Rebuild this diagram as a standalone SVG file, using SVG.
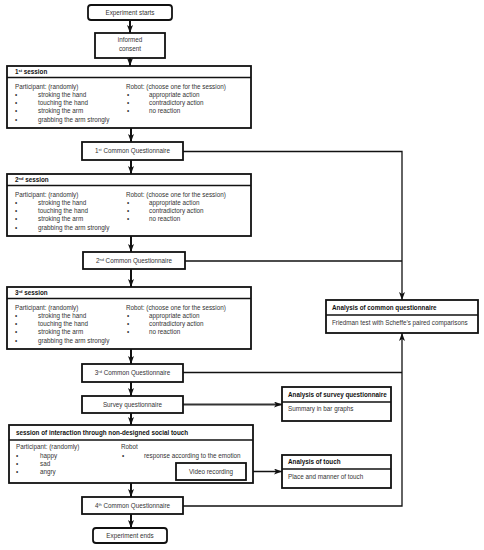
<svg xmlns="http://www.w3.org/2000/svg" width="484" height="550" viewBox="0 0 484 550">
<defs>
<marker id="ah" viewBox="0 0 8 6" refX="8" refY="3" markerWidth="8" markerHeight="6" markerUnits="userSpaceOnUse" orient="auto">
<path d="M0,0 L8,3 L0,6 L2,3 z" fill="#111"/>
</marker>
<marker id="ahm" viewBox="0 0 8 6" refX="8" refY="3" markerWidth="8" markerHeight="6.5" markerUnits="userSpaceOnUse" orient="auto">
<path d="M0,0 L8,3 L0,6 L2,3 z" fill="#111"/>
</marker>
</defs>
<style>
rect{fill:#fff;stroke:#111;stroke-width:1.8}
.div{stroke:#111;stroke-width:1.4}
text{font-family:"Liberation Sans",Arial,sans-serif;font-size:6.3px;fill:#333}
.b{font-weight:bold;fill:#111}
.c{text-anchor:middle}
.sup{font-size:4px}
.main{stroke:#111;stroke-width:2;fill:none}
.con{stroke:#111;stroke-width:1.3;fill:none}
.thick{stroke:#333;stroke-width:2;fill:none}
</style>
<rect width="484" height="550" style="fill:#fff;stroke:none"/>

<g id="connectors">
<line class="main" x1="130" y1="20" x2="130" y2="33" marker-end="url(#ahm)"/>
<line class="main" x1="130" y1="58" x2="130" y2="66" marker-end="url(#ahm)"/>
<line class="main" x1="131" y1="128" x2="131" y2="142" marker-end="url(#ahm)"/>
<line class="main" x1="131" y1="160" x2="131" y2="174" marker-end="url(#ahm)"/>
<line class="main" x1="131" y1="236" x2="131" y2="252" marker-end="url(#ahm)"/>
<line class="main" x1="131" y1="269" x2="131" y2="287" marker-end="url(#ahm)"/>
<line class="main" x1="131" y1="349" x2="131" y2="364" marker-end="url(#ahm)"/>
<line class="main" x1="131" y1="382" x2="131" y2="396" marker-end="url(#ahm)"/>
<line class="main" x1="131" y1="413" x2="131" y2="425" marker-end="url(#ahm)"/>
<line class="main" x1="131" y1="483" x2="131" y2="497" marker-end="url(#ahm)"/>
<line class="main" x1="131" y1="514" x2="131" y2="528" marker-end="url(#ahm)"/>
<polyline class="con" points="183,151.5 402,151.5 402,300" marker-end="url(#ah)"/>
<line class="con" x1="185" y1="261" x2="402" y2="261"/>
<line class="con" x1="183" y1="372.5" x2="402" y2="372.5"/>
<polyline class="con" points="183,506 402,506 402,333" marker-end="url(#ah)"/>
<line class="thick" x1="183" y1="404.5" x2="282" y2="404.5" marker-end="url(#ah)"/>
<line class="con" x1="246" y1="471.5" x2="282" y2="471.5" marker-end="url(#ah)"/>
</g>

<g id="start">
<rect x="88" y="5" width="84" height="15" rx="3"/>
<text class="c" x="130" y="14.7">Experiment starts</text>
</g>

<g id="consent">
<rect x="95" y="33" width="70" height="25"/>
<text class="c" x="130" y="42.3">informed</text>
<text class="c" x="130" y="50.5">consent</text>
</g>

<g id="session1">
<rect x="7" y="66" width="244" height="62"/>
<line class="div" x1="7" y1="77.5" x2="251" y2="77.5"/>
<text class="b" x="15" y="74">1<tspan class="sup" dy="-2">st</tspan><tspan dy="2"> session</tspan></text>
<text x="15" y="88.7">Participant: (randomly)</text>
<text x="15" y="96.9">•</text><text x="38" y="96.9">stroking the hand</text>
<text x="15" y="105.2">•</text><text x="38" y="105.2">touching the hand</text>
<text x="15" y="113.4">•</text><text x="38" y="113.4">stroking the arm</text>
<text x="15" y="121.6">•</text><text x="38" y="121.6">grabbing the arm strongly</text>
<text x="126" y="88.7">Robot: (choose one for the session)</text>
<text x="127" y="96.9">•</text><text x="149" y="96.9">appropriate action</text>
<text x="127" y="105.2">•</text><text x="149" y="105.2">contradictory action</text>
<text x="127" y="113.4">•</text><text x="149" y="113.4">no reaction</text>
</g>

<g id="cq1">
<rect x="82" y="142" width="101" height="18"/>
<text class="c" x="132.5" y="153.3">1<tspan class="sup" dy="-2">st</tspan><tspan dy="2"> Common Questionnaire</tspan></text>
</g>

<g id="session2">
<rect x="7" y="174" width="244" height="62"/>
<line class="div" x1="7" y1="185.5" x2="251" y2="185.5"/>
<text class="b" x="15" y="182">2<tspan class="sup" dy="-2">nd</tspan><tspan dy="2"> session</tspan></text>
<text x="15" y="196.7">Participant: (randomly)</text>
<text x="15" y="204.9">•</text><text x="38" y="204.9">stroking the hand</text>
<text x="15" y="213.2">•</text><text x="38" y="213.2">touching the hand</text>
<text x="15" y="221.4">•</text><text x="38" y="221.4">stroking the arm</text>
<text x="15" y="229.6">•</text><text x="38" y="229.6">grabbing the arm strongly</text>
<text x="126" y="196.7">Robot: (choose one for the session)</text>
<text x="127" y="204.9">•</text><text x="149" y="204.9">appropriate action</text>
<text x="127" y="213.2">•</text><text x="149" y="213.2">contradictory action</text>
<text x="127" y="221.4">•</text><text x="149" y="221.4">no reaction</text>
</g>

<g id="cq2">
<rect x="83" y="252" width="102" height="17"/>
<text class="c" x="134" y="262.8">2<tspan class="sup" dy="-2">nd</tspan><tspan dy="2"> Common Questionnaire</tspan></text>
</g>

<g id="session3">
<rect x="7" y="287" width="244" height="62"/>
<line class="div" x1="7" y1="298.5" x2="251" y2="298.5"/>
<text class="b" x="15" y="295">3<tspan class="sup" dy="-2">rd</tspan><tspan dy="2"> session</tspan></text>
<text x="15" y="309.7">Participant: (randomly)</text>
<text x="15" y="317.9">•</text><text x="38" y="317.9">stroking the hand</text>
<text x="15" y="326.2">•</text><text x="38" y="326.2">touching the hand</text>
<text x="15" y="334.4">•</text><text x="38" y="334.4">stroking the arm</text>
<text x="15" y="342.6">•</text><text x="38" y="342.6">grabbing the arm strongly</text>
<text x="126" y="309.7">Robot: (choose one for the session)</text>
<text x="127" y="317.9">•</text><text x="149" y="317.9">appropriate action</text>
<text x="127" y="326.2">•</text><text x="149" y="326.2">contradictory action</text>
<text x="127" y="334.4">•</text><text x="149" y="334.4">no reaction</text>
</g>

<g id="cq3">
<rect x="82" y="364" width="101" height="18"/>
<text class="c" x="132.5" y="375.3">3<tspan class="sup" dy="-2">rd</tspan><tspan dy="2"> Common Questionnaire</tspan></text>
</g>

<g id="survey">
<rect x="82" y="396" width="101" height="17"/>
<text class="c" x="132.5" y="406.8">Survey questionnaire</text>
</g>

<g id="session-interaction">
<rect x="9" y="425" width="244" height="58"/>
<line class="div" x1="9" y1="440" x2="253" y2="440"/>
<text class="b" x="16" y="435.2">session of interaction through non-designed social touch</text>
<text x="16" y="449.2">Participant: (randomly)</text>
<text x="16" y="457.8">•</text><text x="40" y="457.8">happy</text>
<text x="16" y="466">•</text><text x="40" y="466">sad</text>
<text x="16" y="474.3">•</text><text x="40" y="474.3">angry</text>
<text x="121" y="449.2">Robot</text>
<text x="122" y="457.8">•</text><text x="144" y="457.8">response according to the emotion</text>
</g>

<g id="video">
<rect x="176" y="463" width="70" height="17"/>
<text class="c" x="211" y="473.8">Video recording</text>
</g>

<g id="cq4">
<rect x="82" y="497" width="101" height="17"/>
<text class="c" x="132.5" y="507.8">4<tspan class="sup" dy="-2">th</tspan><tspan dy="2"> Common Questionnaire</tspan></text>
</g>

<g id="end">
<rect x="93" y="528" width="74" height="15" rx="3"/>
<text class="c" x="130" y="537.7">Experiment ends</text>
</g>

<g id="analysis-common">
<rect x="326" y="300" width="152" height="33"/>
<line class="div" x1="326" y1="315" x2="478" y2="315"/>
<text class="b" x="332" y="310">Analysis of common questionnaire</text>
<text x="332" y="325.2">Friedman test with Scheffe’s paired comparisons</text>
</g>

<g id="analysis-survey">
<rect x="282" y="387" width="109" height="34"/>
<line class="div" x1="282" y1="402" x2="391" y2="402"/>
<text class="b" x="288" y="396.6">Analysis of survey questionnaire</text>
<text x="288" y="411.4">Summary in bar graphs</text>
</g>

<g id="analysis-touch">
<rect x="282" y="455" width="109" height="33"/>
<line class="div" x1="282" y1="469" x2="391" y2="469"/>
<text class="b" x="288" y="464.4">Analysis of touch</text>
<text x="288" y="478.6">Place and manner of touch</text>
</g>
</svg>
